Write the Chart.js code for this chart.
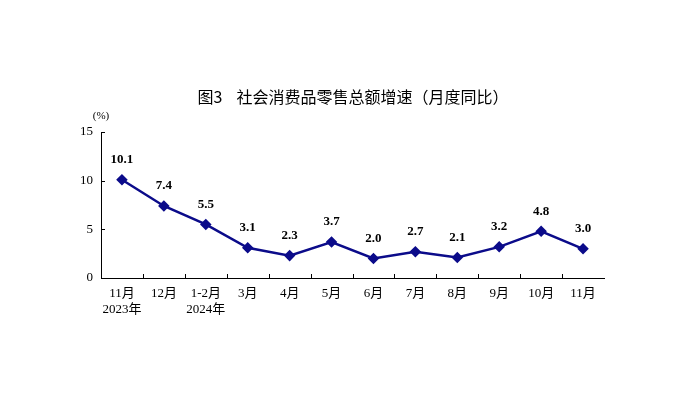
<!DOCTYPE html>
<html>
<head>
<meta charset="utf-8">
<script src="https://cdn.jsdelivr.net/npm/chart.js@4/dist/chart.umd.min.js"></script>
<style>
  html, body { margin: 0; padding: 0; background: #fff; }
  #wrap { width: 685px; height: 417px; }
</style>
</head>
<body>
<div id="wrap"><canvas id="chart"></canvas></div>
<script>
// 数据
const months = [['11月', '2023年'], '12月', ['1-2月', '2024年'], '3月', '4月', '5月', '6月', '7月', '8月', '9月', '10月', '11月'];
const growth = [10.1, 7.4, 5.5, 3.1, 2.3, 3.7, 2.0, 2.7, 2.1, 3.2, 4.8, 3.0];
const yTicks = [0, 5, 10, 15];

const serif = '"Liberation Serif", "Noto Sans CJK SC", serif';
const lineColor = '#0b0b8a';

// 标题、单位、数值标签、刻度线
const decor = {
    id: 'decor',
    afterDraw(chart) {
        const ctx = chart.ctx;
        const x = chart.scales.x;
        const y = chart.scales.y;
        const area = chart.chartArea;
        ctx.save();

        ctx.fillStyle = '#000';
        ctx.font = '16px "Noto Sans CJK SC", sans-serif';
        ctx.textAlign = 'center';
        ctx.textBaseline = 'middle';
        ctx.fillText('图3    社会消费品零售总额增速（月度同比）', 353, 97);

        ctx.font = '11px ' + serif;
        ctx.fillText('(%)', area.left, 116);

        // x轴刻度线（朝上，位于类别之间）
        ctx.strokeStyle = '#000';
        ctx.lineWidth = 1;
        ctx.beginPath();
        for (let i = 1; i < months.length; i++) {
            const px = Math.round((x.getPixelForValue(i - 1) + x.getPixelForValue(i)) / 2) + 0.5;
            ctx.moveTo(px, area.bottom);
            ctx.lineTo(px, area.bottom - 4);
        }
        // y轴刻度线（朝右）
        yTicks.forEach(v => {
            const py = Math.round(y.getPixelForValue(v)) + 0.5;
            ctx.moveTo(area.left, py);
            ctx.lineTo(area.left + 4, py);
        });
        ctx.stroke();

        // 数值标签
        const meta = chart.getDatasetMeta(0);
        ctx.font = 'bold 13px ' + serif;
        meta.data.forEach((pt, i) => {
            ctx.fillText(growth[i].toFixed(1), pt.x, pt.y - 20);
        });
        ctx.restore();
    }
};

new Chart(document.getElementById('chart'), {
    type: 'line',
    data: {
        labels: months,
        datasets: [{
            data: growth,
            borderColor: lineColor,
            backgroundColor: lineColor,
            borderWidth: 2.5,
            pointStyle: 'rectRot',
            pointRadius: 4,
            pointHoverRadius: 4,
            tension: 0
        }]
    },
    options: {
        responsive: true,
        maintainAspectRatio: false,
        animation: false,
        events: [],
        layout: { padding: { left: 0, right: 81, top: 132, bottom: 0 } },
        plugins: {
            legend: { display: false },
            tooltip: { enabled: false },
            title: { display: false }
        },
        scales: {
            x: {
                offset: true,
                grid: { display: false, drawTicks: false },
                border: { display: true, color: '#000', width: 1 },
                ticks: {
                    color: '#000',
                    font: { family: serif, size: 13 },
                    padding: 8,
                    maxRotation: 0,
                    autoSkip: false
                },
                afterFit(scale) { scale.height = 139; }
            },
            y: {
                min: 0,
                max: 15,
                afterBuildTicks(scale) { scale.ticks = yTicks.map(v => ({ value: v })); },
                grid: { display: false, drawTicks: false },
                border: { display: true, color: '#000', width: 1 },
                ticks: {
                    color: '#000',
                    font: { family: serif, size: 13 },
                    padding: 8
                },
                afterFit(scale) { scale.width = 101; }
            }
        }
    },
    plugins: [decor]
});
</script>
</body>
</html>
